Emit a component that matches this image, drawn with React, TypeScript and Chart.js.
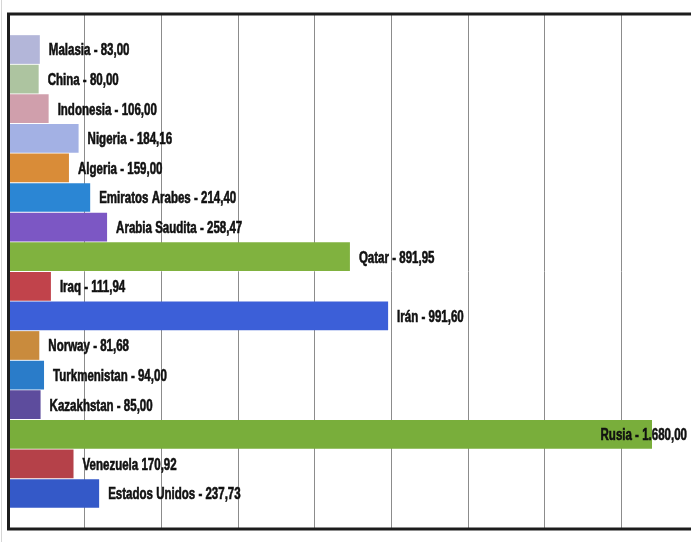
import React, { useEffect, useRef } from "react";
import { Chart, registerables } from "chart.js";

Chart.register(...registerables);

const countries = [
  "Malasia",
  "China",
  "Indonesia",
  "Nigeria",
  "Algeria",
  "Emiratos Arabes",
  "Arabia Saudita",
  "Qatar",
  "Iraq",
  "Irán",
  "Norway",
  "Turkmenistan",
  "Kazakhstan",
  "Rusia",
  "Venezuela",
  "Estados Unidos",
];

const values = [
  83.0, 80.0, 106.0, 184.16, 159.0, 214.4, 258.47, 891.95, 111.94, 991.6, 81.68,
  94.0, 85.0, 1680.0, 170.92, 237.73,
];

const separators = [
  " - ", " - ", " - ", " - ", " - ", " - ", " - ", " - ", " - ", " - ", " - ",
  " - ", " - ", " - ", " ", " - ",
];

const barColors = [
  "#b3b6d9",
  "#adc4a0",
  "#d09fac",
  "#a3b1e4",
  "#d98c38",
  "#2b86d4",
  "#7c57c4",
  "#80b23f",
  "#c1434b",
  "#3c5fd8",
  "#c98b3d",
  "#2a7cc9",
  "#5d4c9d",
  "#79ae3b",
  "#b54149",
  "#3459c8",
];

const xMin = 0;
const xMax = 1800;
const xStep = 200;

function formatEs(v: number): string {
  const [i, d] = v.toFixed(2).split(".");
  return i.replace(/\B(?=(\d{3})+(?!\d))/g, ".") + "," + d;
}

const LABEL_FONT = 'bold 16px "Liberation Sans", Arial, sans-serif';
const LABEL_SQUEEZE = 0.72;
const VISIBLE_WIDTH = 691;

const labelPlugin = {
  id: "barLabels",
  afterDatasetsDraw(chart: any) {
    const ctx = chart.ctx;
    const meta = chart.getDatasetMeta(0);
    ctx.save();
    ctx.font = LABEL_FONT;
    ctx.fillStyle = "#111111";
    ctx.strokeStyle = "#111111";
    ctx.lineWidth = 0.6;
    ctx.textBaseline = "middle";
    ctx.textAlign = "left";
    meta.data.forEach((bar: any, i: number) => {
      const { x, y } = bar.getProps(["x", "y"], true);
      const text = countries[i] + separators[i] + formatEs(values[i]);
      const w = ctx.measureText(text).width * LABEL_SQUEEZE;
      let tx = x + 9;
      const limit = VISIBLE_WIDTH - 4;
      if (tx + w > limit) tx = limit - w;
      ctx.save();
      ctx.translate(tx, y + 1.5);
      ctx.scale(LABEL_SQUEEZE, 1);
      ctx.fillText(text, 0, 0);
      ctx.strokeText(text, 0, 0);
      ctx.restore();
    });
    ctx.restore();
  },
};

const framePlugin = {
  id: "frame",
  afterDraw(chart: any) {
    const ctx = chart.ctx;
    const ca = chart.chartArea;
    ctx.save();
    ctx.strokeStyle = "#d6d6d6";
    ctx.lineWidth = 1;
    ctx.beginPath();
    ctx.moveTo(1.5, 0);
    ctx.lineTo(1.5, chart.height);
    ctx.stroke();
    ctx.strokeStyle = "#1c1c1c";
    ctx.lineWidth = 3;
    ctx.beginPath();
    ctx.moveTo(chart.width, ca.top);
    ctx.lineTo(ca.left + 0.5, ca.top);
    ctx.lineTo(ca.left + 0.5, ca.bottom);
    ctx.lineTo(chart.width, ca.bottom);
    ctx.stroke();
    ctx.restore();
  },
};

export default function App() {
  const canvasRef = useRef<HTMLCanvasElement | null>(null);

  useEffect(() => {
    if (!canvasRef.current) return;
    const chart = new Chart(canvasRef.current, {
      type: "bar",
      data: {
        datasets: [
          {
            data: values.map((v, i) => ({ x: v, y: i })),
            backgroundColor: barColors,
            borderWidth: 0,
            barPercentage: 0.97,
            categoryPercentage: 1,
          },
        ],
      },
      options: {
        indexAxis: "y",
        responsive: true,
        maintainAspectRatio: false,
        animation: false,
        layout: { padding: { left: 8, right: 14, top: 14, bottom: 13 } },
        plugins: {
          legend: { display: false },
          tooltip: { enabled: false },
          title: { display: false },
        },
        scales: {
          x: {
            type: "linear",
            min: xMin,
            max: xMax,
            ticks: { display: false, stepSize: xStep },
            grid: { color: "#8c8c8c", lineWidth: 1, drawTicks: false },
            border: { display: false },
          },
          y: {
            type: "linear",
            reverse: true,
            offset: false,
            min: -1.2,
            max: countries.length + 0.2,
            display: false,
          },
        },
      },
      plugins: [labelPlugin, framePlugin],
    } as any);
    return () => chart.destroy();
  }, []);

  return (
    <div
      style={{
        position: "fixed",
        left: 0,
        top: 0,
        width: 691,
        height: 542,
        overflow: "hidden",
        background: "#ffffff",
      }}
    >
      <div style={{ position: "relative", width: 712, height: 542 }}>
        <canvas ref={canvasRef} />
      </div>
    </div>
  );
}
